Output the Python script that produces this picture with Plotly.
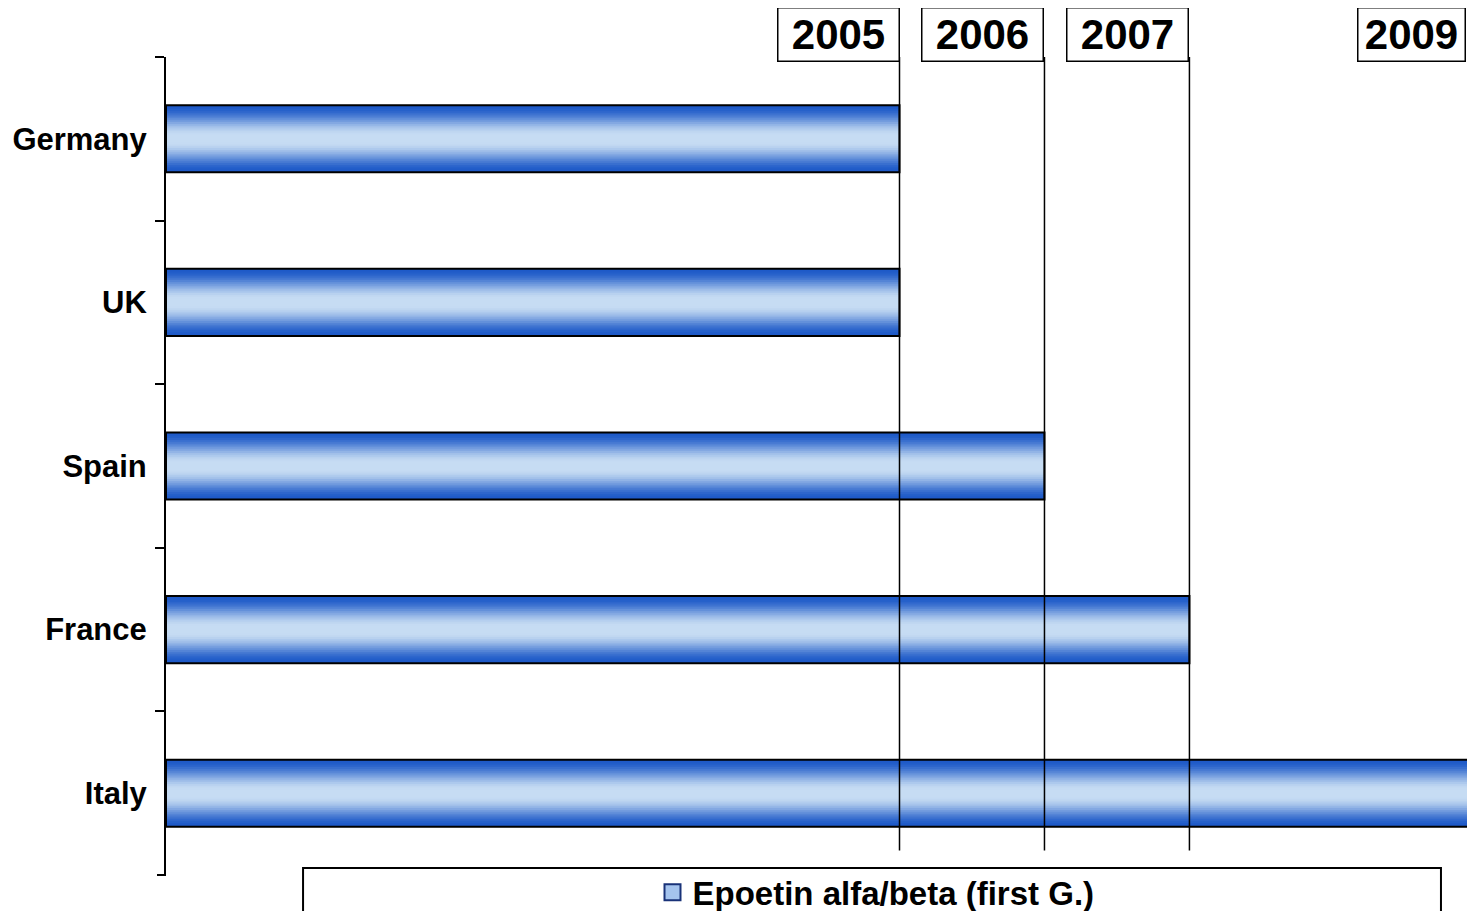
import plotly.graph_objects as go

# Launch timing of first generation epoetins by country
countries = ["Germany", "UK", "Spain", "France", "Italy"]
launch_year = [2005, 2005, 2006, 2007, 2009]
marker_years = [2005, 2006, 2007, 2009]
series_name = "Epoetin alfa/beta (first G.)"

x_range = [1999.94, 2008.97]
bar_width = 0.41
n_layers = 18
dark = (30, 90, 200)
light = (198, 220, 243)
font = "Liberation Sans, Arial, sans-serif"


def shade(t):
    # t = 0 in the middle of the bar, 1 at its top/bottom edge
    s = min(max((t - 0.12) / 0.88, 0.0), 1.0)
    s = s * s * (3 - 2 * s)
    r, g, b = [round(l + (d - l) * s) for l, d in zip(light, dark)]
    return f"rgb({r},{g},{b})"


fig = go.Figure()

# fake a vertical gradient by stacking thinner, lighter bars on top of each other
lengths = [yr - x_range[0] for yr in launch_year]
for k in range(n_layers):
    t = 1 - k / n_layers
    fig.add_trace(go.Bar(
        x=lengths, y=countries, base=x_range[0], orientation="h",
        width=bar_width * t,
        marker=dict(color=shade(t), line=dict(width=0)),
        showlegend=False, hoverinfo="skip",
    ))

# black outline on top
fig.add_trace(go.Bar(
    x=lengths, y=countries, base=x_range[0], orientation="h",
    width=bar_width,
    marker=dict(color="rgba(0,0,0,0)", line=dict(color="black", width=2)),
    showlegend=False, hoverinfo="skip",
))

# legend entry
fig.add_trace(go.Scatter(
    x=[None], y=[None], mode="markers", name=series_name,
    marker=dict(symbol="square", size=18, color="rgb(165,196,238)",
                line=dict(color="rgb(25,50,120)", width=2)),
))

# year markers
for yr in marker_years:
    inside = yr < x_range[1]
    if inside:
        fig.add_shape(type="line", xref="x", yref="paper",
                      x0=yr, x1=yr, y0=0.03, y1=1,
                      line=dict(color="black", width=1.5))
    fig.add_annotation(
        x=min(yr, x_range[1]), xref="x", y=1.061, yref="paper",
        xanchor="right", yanchor="top",
        xshift=0 if inside else -9,
        text=f"<b>{yr}</b>", showarrow=False,
        font=dict(family=font, size=42, color="black"),
        width=116 if inside else 102, height=48, borderpad=2,
        bordercolor="black", borderwidth=1.5, bgcolor="white",
    )

# bottom boundary tick of the category axis
fig.add_shape(type="line", xref="paper", yref="paper",
              xsizemode="pixel", xanchor=0, x0=-9, x1=0, y0=0, y1=0,
              line=dict(color="black", width=2))

# legend frame
fig.add_shape(type="rect", xref="paper", yref="paper",
              x0=0.1047, x1=0.974, y0=-0.07, y1=0.0086,
              line=dict(color="black", width=2), fillcolor="rgba(0,0,0,0)")

fig.update_layout(
    width=1475, height=911,
    barmode="overlay",
    margin=dict(l=158, r=8, t=49, b=44, autoexpand=False),
    paper_bgcolor="white", plot_bgcolor="white",
    font=dict(family=font, color="black"),
    showlegend=True,
    legend=dict(orientation="h", x=0.5424, xanchor="center",
                y=-0.021, yanchor="middle",
                font=dict(family=font, size=33, color="black", weight="bold"),
                bgcolor="rgba(0,0,0,0)"),
    xaxis=dict(range=x_range, visible=False, showgrid=False, zeroline=False),
    yaxis=dict(type="category", categoryorder="array", categoryarray=countries,
               range=[4.5, -0.5], showline=True, linecolor="black", linewidth=2,
               ticks="outside", ticklen=9, tickwidth=2, tickcolor="black",
               tickson="boundaries", ticklabelstandoff=11,
               tickfont=dict(family=font, size=31, color="black", weight="bold"),
               showgrid=False, zeroline=False),
)

fig.write_html("out.html")
